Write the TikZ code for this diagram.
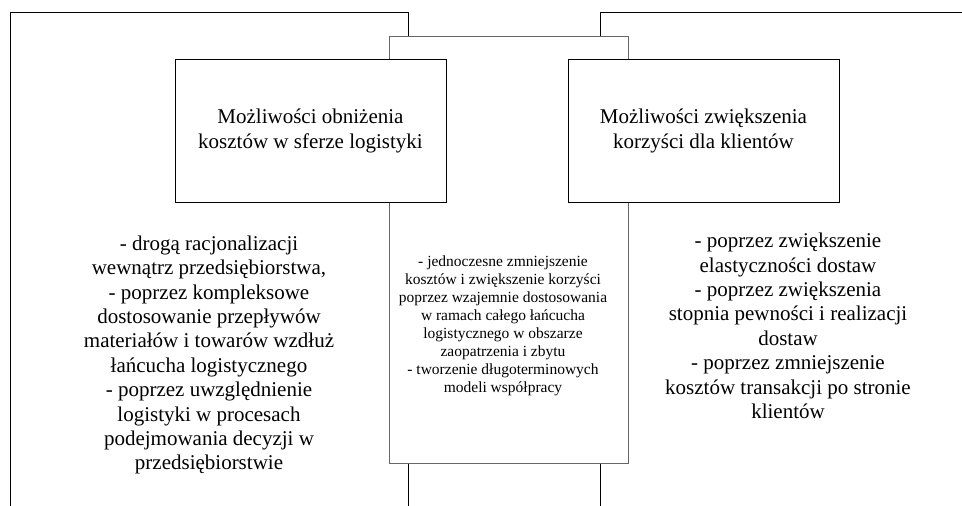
\documentclass[tikz,border=0pt]{standalone}
\usepackage{fontspec}
\setmainfont{Liberation Serif}
\begin{document}
\begin{tikzpicture}[x=1pt,y=-1pt,
  frameline/.style={draw=black, line width=0.9pt},
  midframe/.style={draw=black!60, line width=1pt, fill=white,
    minimum width=239pt, minimum height=427pt, inner sep=0pt},
  titlebox/.style={draw=black, line width=0.9pt, fill=white,
    minimum width=271pt, minimum height=143pt, inner sep=0pt,
    align=center, font=\fontsize{21}{25}\selectfont},
  listtext/.style={align=center, inner sep=0pt,
    font=\fontsize{21}{24.4}\selectfont},
  midtext/.style={align=center, inner sep=0pt,
    font=\fontsize{15.5}{18}\selectfont}]
\useasboundingbox (0,0) rectangle (962,506);
\fill[white] (0,0) rectangle (962,506);

% outer frames (left area and right area)
\draw[frameline] (10,506) -- (10,12) -- (408,12) -- (408,506);
\draw[frameline] (600,506) -- (600,12) -- (962,12);

% shared middle area
\node[midframe] (mid) at (508.5,249.5) {};

% headline boxes
\node[titlebox] (cost) at (310.5,130.5)
  {Możliwości obniżenia\\kosztów w sferze logistyki};
\node[titlebox] (client) at (703.5,130.5)
  {Możliwości zwiększenia\\korzyści dla klientów};

% lists of measures
\node[listtext] (costlist) at (209,355)
  {- drogą racjonalizacji\\
   wewnątrz przedsiębiorstwa,\\
   - poprzez kompleksowe\\
   dostosowanie przepływów\\
   materiałów i towarów wzdłuż\\
   łańcucha logistycznego\\
   - poprzez uwzględnienie\\
   logistyki w procesach\\
   podejmowania decyzji w\\
   przedsiębiorstwie};
\node[listtext] (clientlist) at (788,326)
  {- poprzez zwiększenie\\
   elastyczności dostaw\\
   - poprzez zwiększenia\\
   stopnia pewności i realizacji\\
   dostaw\\
   - poprzez zmniejszenie\\
   kosztów transakcji po stronie\\
   klientów};
\node[midtext] (midlist) at (503,326)
  {- jednoczesne zmniejszenie\\
   kosztów i zwiększenie korzyści\\
   poprzez wzajemnie dostosowania\\
   w ramach całego łańcucha\\
   logistycznego w obszarze\\
   zaopatrzenia i zbytu\\
   - tworzenie długoterminowych\\
   modeli współpracy};
\end{tikzpicture}
\end{document}
